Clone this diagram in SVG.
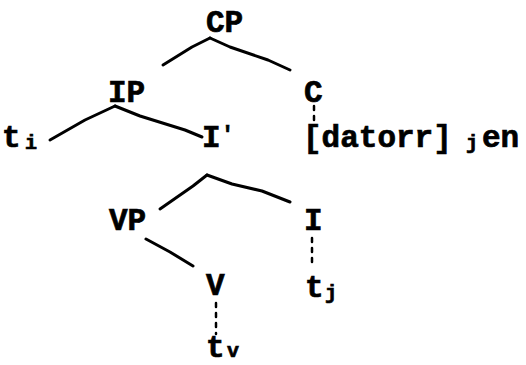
<svg xmlns="http://www.w3.org/2000/svg" width="526" height="365" viewBox="0 0 526 365">
<style>
text{font-family:"Liberation Mono","DejaVu Sans Mono",monospace;font-weight:bold;font-size:31px;fill:#000;stroke:#000;stroke-width:0.7}
.sub{font-size:20px}
.e{stroke:#000;stroke-width:3;fill:none;stroke-linecap:round;stroke-linejoin:round}
.d{stroke:#000;stroke-width:2.5;fill:none;stroke-dasharray:4 6;stroke-linecap:round}
</style>
<rect width="526" height="365" fill="#fff"/>
<g id="connectors">
<polyline class="e" points="163,65 192,47 210,38"/>
<polyline class="e" points="210,38 230,47 268,60 290,70"/>
<polyline class="e" points="50,140 85,120 115,106"/>
<polyline class="e" points="115,106 140,116 185,130 202,137"/>
<polyline class="e" points="160,209 193,186 207,175"/>
<polyline class="e" points="207,175 232,184 262,191 290,202"/>
<polyline class="e" points="146,239 170,252 193,266"/>
<line class="d" x1="314" y1="106" x2="314" y2="126"/>
<line class="d" x1="312" y1="238" x2="312" y2="268"/>
<line class="d" x1="216" y1="303" x2="216" y2="334"/>
</g>
<g id="CP"><text x="206" y="32">CP</text></g>
<g id="IP"><text x="108" y="102">IP</text></g>
<g id="C"><text x="304" y="102">C</text></g>
<g id="ti"><text x="2" y="147">t<tspan class="sub" x="25" dy="2">i</tspan></text></g>
<g id="Ibar"><text x="202" y="147">I<tspan x="221" dy="-6" font-size="22">′</tspan></text></g>
<g id="datorr"><text x="303" y="147">[datorr]<tspan class="sub" x="466" dy="2">j</tspan><tspan x="482" dy="-2">en</tspan></text></g>
<g id="VP"><text x="109" y="230">VP</text></g>
<g id="I"><text x="304" y="230">I</text></g>
<g id="V"><text x="206" y="295">V</text></g>
<g id="tj"><text x="305" y="297">t<tspan class="sub" x="325" dy="2">j</tspan></text></g>
<g id="tv"><text x="206" y="357">t<tspan class="sub" x="227" dy="0">v</tspan></text></g>
</svg>
